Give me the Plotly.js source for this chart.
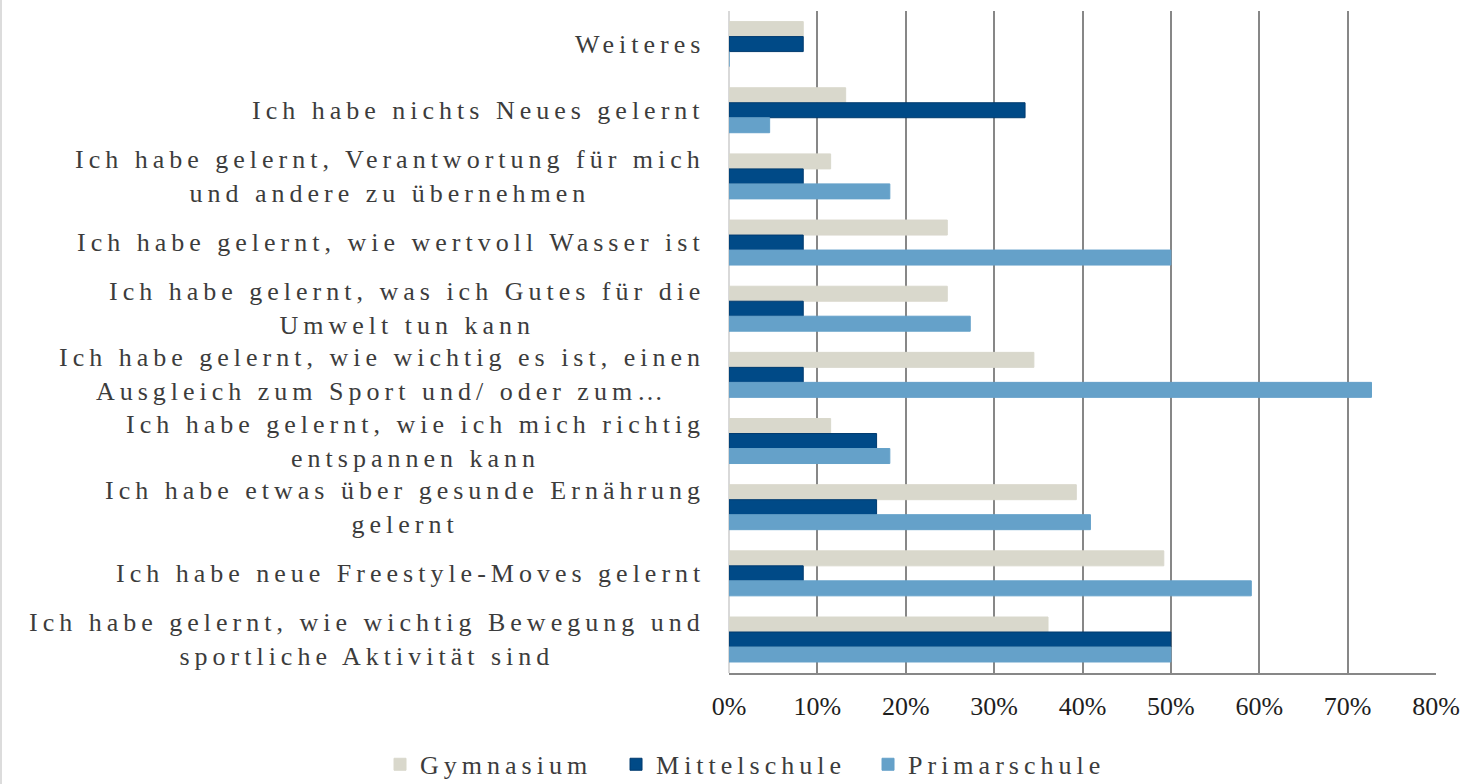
<!DOCTYPE html>
<html>
<head>
<meta charset="utf-8">
<script src="https://cdn.plot.ly/plotly-3.0.1.min.js"></script>
<style>
  html, body { margin: 0; padding: 0; background: #fff; }
  #chart { width: 1481px; height: 784px; position: relative; }
  #edge { position: absolute; left: 0; top: 0; width: 2px; height: 784px; background: #dcdcdc; }
  text { letter-spacing: 5px; }
  .xtick text { letter-spacing: 0px; }
</style>
</head>
<body>
<div id="chart"></div>
<div id="edge"></div>
<script>
// Categories listed top to bottom
const categories = [
  "Weiteres",
  "Ich habe nichts Neues gelernt",
  "Ich habe gelernt, Verantwortung für mich<br>und andere zu übernehmen",
  "Ich habe gelernt, wie wertvoll Wasser ist",
  "Ich habe gelernt, was ich Gutes für die<br>Umwelt tun kann",
  "Ich habe gelernt, wie wichtig es ist, einen<br>Ausgleich zum Sport und/ oder zum…",
  "Ich habe gelernt, wie ich mich richtig<br>entspannen kann",
  "Ich habe etwas über gesunde Ernährung<br>gelernt",
  "Ich habe neue Freestyle-Moves gelernt",
  "Ich habe gelernt, wie wichtig Bewegung und<br>sportliche Aktivität sind"
];
const seriesNames = ["Gymnasium", "Mittelschule", "Primarschule"];
const gymnasium    = [0.084, 0.132, 0.115, 0.247, 0.247, 0.345, 0.115, 0.393, 0.492, 0.361];
const mittelschule = [0.084, 0.335, 0.084, 0.084, 0.084, 0.084, 0.167, 0.167, 0.084, 0.500];
const primarschule = [0.000, 0.046, 0.182, 0.500, 0.273, 0.727, 0.182, 0.409, 0.591, 0.500];
const xTickVals = [0, 0.1, 0.2, 0.3, 0.4, 0.5, 0.6, 0.7, 0.8];
const xTickText = ["0%", "10%", "20%", "30%", "40%", "50%", "60%", "70%", "80%"];

const ids = categories.map((c, i) => "c" + i);

const colors = ["#d9d8cc", "#004a87", "#65a1c9"];
const lineColors = ["#d9d8cc", "#003b6f", "#65a1c9"];
const legendWidths = [191, 207, 190];
const values = [gymnasium, mittelschule, primarschule];

const traces = seriesNames.map((name, k) => ({
  type: "bar",
  orientation: "h",
  name: name,
  x: values[k],
  y: ids,
  legendwidth: legendWidths[k],
  marker: { color: colors[k], line: { color: lineColors[k], width: 1 } },
  hoverinfo: "x+name"
}));

const SERIF = "Liberation Serif";
const labelFont = { family: SERIF, size: 26, color: "#3c3c3c" };

const annotations = categories.map((c, i) => ({
  x: 0, xref: "x",
  y: ids[i], yref: "y",
  text: c,
  showarrow: false,
  xanchor: "right",
  yanchor: "middle",
  align: "center",
  xshift: -22,
  font: labelFont
}));

const layout = {
  width: 1481,
  height: 784,
  margin: { l: 729, r: 45, t: 11, b: 111, autoexpand: false },
  paper_bgcolor: "#ffffff",
  plot_bgcolor: "#ffffff",
  barmode: "group",
  bargap: 0.32,
  bargroupgap: 0,
  showlegend: true,
  legend: {
    orientation: "h",
    x: -0.4936, xanchor: "left",
    y: -0.138, yanchor: "middle",
    font: { family: SERIF, size: 26, color: "#3c3c3c" },
    traceorder: "normal"
  },
  xaxis: {
    range: [0, 0.8],
    tickvals: xTickVals,
    ticktext: xTickText,
    showgrid: true,
    gridcolor: "#878787",
    gridwidth: 2,
    zeroline: true,
    zerolinecolor: "#d9d9d9",
    zerolinewidth: 2,
    showline: true,
    linecolor: "#878787",
    linewidth: 2,
    ticks: "",
    ticklabelstandoff: 9,
    tickfont: { family: SERIF, size: 26, color: "#1e1e1e" },
    fixedrange: true
  },
  yaxis: {
    type: "category",
    categoryorder: "array",
    categoryarray: ids,
    autorange: "reversed",
    showticklabels: false,
    showgrid: false,
    zeroline: false,
    showline: false,
    ticks: "",
    fixedrange: true
  },
  annotations: annotations
};

Plotly.newPlot("chart", traces, layout, { displayModeBar: false, staticPlot: true });
</script>
</body>
</html>
